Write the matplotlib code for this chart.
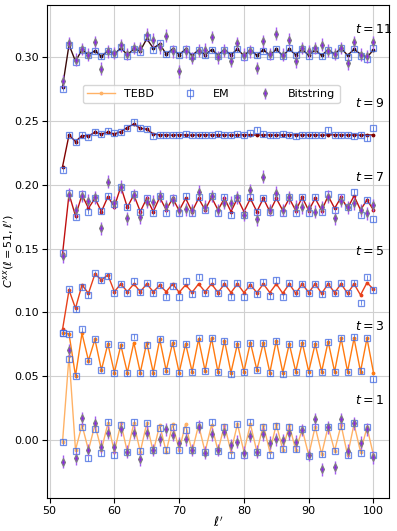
import numpy as np
import matplotlib
matplotlib.use('Agg')
import matplotlib.pyplot as plt

# site index l'
ell = np.arange(52, 101)

# TEBD curves, one per time step
tebd_t1 = [-0.0013, 0.0660, -0.0078, 0.0118, -0.0078, 0.0118, -0.0078, 0.0131, -0.0092, 0.0131,
           -0.0092, 0.0131, -0.0092, 0.0131, -0.0092, 0.0118, -0.0092, 0.0125, -0.0078, 0.0125,
           -0.0092, 0.0118, -0.0092, 0.0118, -0.0084, 0.0118, -0.0092, 0.0125, -0.0092, 0.0125,
           -0.0092, 0.0118, -0.0092, 0.0125, -0.0078, 0.0118, -0.0078, 0.0084, -0.0118, 0.0105,
           -0.0110, 0.0105, -0.0084, 0.0118, -0.0118, 0.0125, -0.0092, 0.0099, -0.0118]
tebd_t3 = [0.0842, 0.0832, 0.0503, 0.0837, 0.0623, 0.0790, 0.0550, 0.0754, 0.0529, 0.0743,
           0.0529, 0.0764, 0.0529, 0.0764, 0.0529, 0.0790, 0.0544, 0.0764, 0.0529, 0.0754,
           0.0537, 0.0790, 0.0544, 0.0798, 0.0531, 0.0780, 0.0529, 0.0754, 0.0537, 0.0764,
           0.0550, 0.0764, 0.0529, 0.0780, 0.0529, 0.0754, 0.0537, 0.0764, 0.0537, 0.0754,
           0.0537, 0.0772, 0.0537, 0.0798, 0.0537, 0.0798, 0.0537, 0.0798, 0.0529]
tebd_t5 = [0.0868, 0.1176, 0.1033, 0.1216, 0.1150, 0.1302, 0.1255, 0.1294, 0.1163, 0.1224,
           0.1163, 0.1224, 0.1163, 0.1224, 0.1163, 0.1213, 0.1163, 0.1224, 0.1158, 0.1216,
           0.1158, 0.1224, 0.1163, 0.1224, 0.1156, 0.1224, 0.1156, 0.1224, 0.1156, 0.1216,
           0.1156, 0.1224, 0.1156, 0.1224, 0.1150, 0.1224, 0.1150, 0.1224, 0.1156, 0.1224,
           0.1150, 0.1224, 0.1156, 0.1224, 0.1150, 0.1224, 0.1137, 0.1234, 0.1182]
tebd_t7 = [0.1460, 0.1929, 0.1757, 0.1922, 0.1817, 0.1895, 0.1791, 0.1908, 0.1830, 0.1987,
           0.1825, 0.1922, 0.1791, 0.1895, 0.1791, 0.1903, 0.1804, 0.1895, 0.1799, 0.1895,
           0.1791, 0.1895, 0.1804, 0.1903, 0.1804, 0.1895, 0.1791, 0.1895, 0.1791, 0.1893,
           0.1791, 0.1895, 0.1791, 0.1895, 0.1799, 0.1895, 0.1799, 0.1903, 0.1799, 0.1895,
           0.1799, 0.1914, 0.1817, 0.1903, 0.1817, 0.1914, 0.1804, 0.1882, 0.1804]
tebd_t9 = [0.2144, 0.2392, 0.2340, 0.2387, 0.2384, 0.2413, 0.2400, 0.2413, 0.2400, 0.2418,
           0.2450, 0.2478, 0.2444, 0.2437, 0.2400, 0.2392, 0.2392, 0.2390, 0.2393, 0.2392,
           0.2390, 0.2392, 0.2393, 0.2391, 0.2392, 0.2392, 0.2390, 0.2392, 0.2393, 0.2392,
           0.2391, 0.2392, 0.2392, 0.2390, 0.2392, 0.2393, 0.2392, 0.2391, 0.2392, 0.2392,
           0.2390, 0.2392, 0.2393, 0.2392, 0.2391, 0.2392, 0.2390, 0.2392, 0.2392]
tebd_t11 = [0.2770, 0.3099, 0.2969, 0.3060, 0.3021, 0.3052, 0.3008, 0.3052, 0.3026, 0.3073,
            0.3021, 0.3065, 0.3052, 0.3146, 0.3073, 0.3105, 0.3026, 0.3065, 0.3021, 0.3065,
            0.3016, 0.3058, 0.3021, 0.3060, 0.3021, 0.3060, 0.3021, 0.3065, 0.3013, 0.3060,
            0.3016, 0.3060, 0.3016, 0.3063, 0.3013, 0.3063, 0.3021, 0.3063, 0.3016, 0.3058,
            0.3016, 0.3060, 0.3026, 0.3073, 0.3016, 0.3063, 0.3026, 0.3000, 0.3060]

# EM estimates
em_t1 = [-0.0015, 0.0635, -0.0084, 0.0105, -0.0144, 0.0084, -0.0105, 0.0144, -0.0118, 0.0118,
         -0.0092, 0.0144, -0.0084, 0.0131, -0.0078, 0.0092, -0.0078, 0.0099, -0.0078, 0.0078,
         -0.0078, 0.0118, -0.0092, 0.0144, -0.0084, 0.0099, -0.0118, 0.0125, -0.0118, 0.0144,
         -0.0092, 0.0099, -0.0118, 0.0110, -0.0073, 0.0105, -0.0073, 0.0084, -0.0125, 0.0105,
         -0.0110, 0.0099, -0.0084, 0.0110, -0.0118, 0.0131, -0.0099, 0.0099, -0.0118]
em_t3 = [0.0842, 0.0832, 0.0503, 0.0869, 0.0623, 0.0790, 0.0550, 0.0754, 0.0529, 0.0743,
         0.0524, 0.0811, 0.0529, 0.0746, 0.0524, 0.0793, 0.0544, 0.0764, 0.0529, 0.0754,
         0.0537, 0.0798, 0.0544, 0.0798, 0.0531, 0.0780, 0.0518, 0.0754, 0.0531, 0.0764,
         0.0550, 0.0764, 0.0524, 0.0780, 0.0518, 0.0754, 0.0537, 0.0764, 0.0529, 0.0754,
         0.0537, 0.0772, 0.0537, 0.0798, 0.0537, 0.0811, 0.0544, 0.0798, 0.0476]
em_t5 = [0.0842, 0.1182, 0.1025, 0.1197, 0.1137, 0.1307, 0.1255, 0.1286, 0.1156, 0.1224,
         0.1156, 0.1250, 0.1158, 0.1229, 0.1150, 0.1213, 0.1124, 0.1208, 0.1119, 0.1250,
         0.1145, 0.1281, 0.1150, 0.1250, 0.1150, 0.1229, 0.1124, 0.1234, 0.1119, 0.1216,
         0.1145, 0.1242, 0.1129, 0.1255, 0.1124, 0.1229, 0.1150, 0.1224, 0.1156, 0.1224,
         0.1145, 0.1224, 0.1150, 0.1229, 0.1150, 0.1234, 0.1077, 0.1276, 0.1176]
em_t7 = [0.1464, 0.1940, 0.1752, 0.1930, 0.1791, 0.1895, 0.1799, 0.1914, 0.1851, 0.1987,
         0.1825, 0.1930, 0.1791, 0.1895, 0.1783, 0.1914, 0.1783, 0.1895, 0.1778, 0.1914,
         0.1778, 0.1903, 0.1804, 0.1914, 0.1783, 0.1908, 0.1765, 0.1895, 0.1765, 0.1908,
         0.1791, 0.1895, 0.1791, 0.1908, 0.1783, 0.1903, 0.1783, 0.1903, 0.1783, 0.1908,
         0.1791, 0.1930, 0.1804, 0.1903, 0.1825, 0.1948, 0.1765, 0.1882, 0.1730]
em_t9 = [0.2118, 0.2395, 0.2338, 0.2392, 0.2379, 0.2416, 0.2398, 0.2424, 0.2405, 0.2413,
         0.2448, 0.2497, 0.2450, 0.2440, 0.2385, 0.2392, 0.2390, 0.2395, 0.2388, 0.2400,
         0.2392, 0.2390, 0.2395, 0.2388, 0.2400, 0.2392, 0.2388, 0.2398, 0.2390, 0.2405,
         0.2432, 0.2400, 0.2390, 0.2392, 0.2400, 0.2388, 0.2380, 0.2392, 0.2388, 0.2395,
         0.2390, 0.2432, 0.2392, 0.2388, 0.2395, 0.2383, 0.2392, 0.2366, 0.2446]
em_t11 = [0.2754, 0.3099, 0.2960, 0.3060, 0.3021, 0.3052, 0.3008, 0.3052, 0.3030, 0.3080,
          0.3010, 0.3065, 0.3045, 0.3157, 0.3060, 0.3110, 0.3026, 0.3065, 0.3021, 0.3065,
          0.3010, 0.3058, 0.3016, 0.3060, 0.3013, 0.3060, 0.3021, 0.3065, 0.3003, 0.3060,
          0.3016, 0.3052, 0.3008, 0.3063, 0.3008, 0.3073, 0.3021, 0.3063, 0.3008, 0.3058,
          0.3008, 0.3060, 0.3016, 0.3073, 0.3000, 0.3063, 0.3008, 0.2990, 0.3073]
em_err = 0.002

# Bitstring sampling (only t = 1, 7, 11)
bit_t1 = [-0.0170, 0.0706, -0.0144, 0.0170, -0.0078, 0.0136, -0.0052, 0.0058, -0.0058, 0.0084,
          -0.0092, 0.0058, -0.0152, 0.0058, -0.0078, 0.0005, 0.0084, 0.0039, -0.0026, 0.0005,
          -0.0078, 0.0105, -0.0099, 0.0044, -0.0078, 0.0065, -0.0039, -0.0013, -0.0099, 0.0031,
          -0.0092, 0.0044, -0.0021, 0.0005, 0.0000, 0.0052, -0.0013, 0.0078, -0.0118, 0.0162,
          -0.0230, 0.0099, -0.0214, 0.0162, -0.0084, 0.0131, -0.0021, 0.0084, -0.0136]
bit_t7 = [0.1440, 0.1925, 0.1804, 0.1914, 0.1877, 0.1903, 0.1660, 0.2026, 0.1861, 0.1987,
          0.1739, 0.1922, 0.1746, 0.1869, 0.1869, 0.1914, 0.1835, 0.1882, 0.1804, 0.1809,
          0.1804, 0.1948, 0.1830, 0.1914, 0.1804, 0.1861, 0.1861, 0.1903, 0.1765, 0.1961,
          0.1731, 0.2065, 0.1804, 0.1940, 0.1804, 0.1903, 0.1830, 0.1825, 0.1817, 0.1791,
          0.1825, 0.1908, 0.1739, 0.1877, 0.1825, 0.1856, 0.1804, 0.1778, 0.1843]
bit_t11 = [0.2812, 0.3112, 0.2982, 0.3065, 0.3021, 0.3120, 0.2911, 0.3047, 0.3034, 0.3094,
           0.3026, 0.3073, 0.3073, 0.3178, 0.3139, 0.3078, 0.3170, 0.3047, 0.2890, 0.3047,
           0.2995, 0.3052, 0.3060, 0.3160, 0.3000, 0.3052, 0.2974, 0.3112, 0.3021, 0.3047,
           0.2916, 0.3125, 0.3026, 0.3185, 0.3021, 0.3139, 0.2969, 0.3073, 0.3047, 0.3073,
           0.3099, 0.3052, 0.3026, 0.3073, 0.2955, 0.3120, 0.3021, 0.3008, 0.3118]
bit_err = 0.005

times = [1, 3, 5, 7, 9, 11]
tebd = [tebd_t1, tebd_t3, tebd_t5, tebd_t7, tebd_t9, tebd_t11]
em = [em_t1, em_t3, em_t5, em_t7, em_t9, em_t11]
bits = {1: bit_t1, 7: bit_t7, 11: bit_t11}
colors = ['#ffb266', '#ff7a10', '#e8401a', '#c01010', '#800000', '#3a0a0a']
label_y = [0.031, 0.089, 0.1475, 0.2055, 0.2635, 0.3216]

fig = plt.figure(figsize=(3.97, 5.31), dpi=100)
ax = fig.add_axes([0.1184, 0.062, 0.8615, 0.9284])

for i, t in enumerate(times):
    ax.plot(ell, tebd[i], '.-', color=colors[i], lw=1, ms=3.5, zorder=2,
            label='TEBD' if i == 0 else None)
    ax.errorbar(ell, em[i], yerr=em_err, fmt='s', mfc='none', mec='royalblue',
                ecolor='royalblue', ms=4.5, mew=0.9, elinewidth=0.7, alpha=0.75, zorder=3,
                label='EM' if i == 0 else None)
    if t in bits:
        ax.errorbar(ell, bits[t], yerr=bit_err, fmt='d', mfc='#8a2be2', mec='#808080',
                    ecolor='#a45cf0', ms=4, mew=0.8, elinewidth=1, zorder=4,
                    label='Bitstring' if t == 1 else None)
    ax.text(97.2, label_y[i], '$t=%d$' % t, fontsize=9, ha='left', va='center')

ax.set_xlim(49.6, 102.4)
ax.set_ylim(-0.0455, 0.341)
ax.set_xticks([50, 60, 70, 80, 90, 100])
ax.set_yticks([0.0, 0.05, 0.10, 0.15, 0.20, 0.25, 0.30])
ax.set_yticklabels(['0.00', '0.05', '0.10', '0.15', '0.20', '0.25', '0.30'])
ax.tick_params(labelsize=8, pad=2)
ax.grid(True, color='#d0d0d0', lw=0.8)
ax.set_axisbelow(True)
ax.set_xlabel("$\\ell'$", fontsize=9, labelpad=0)
ax.set_ylabel("$C^{xx}(\\ell=51,\\ell')$", fontsize=8)
ax.yaxis.set_label_coords(-0.09, 0.5)

ax.legend(loc='upper center', bbox_to_anchor=(0.48, 0.85), ncol=3, fontsize=8,
          framealpha=0.8, handlelength=2.5, columnspacing=2.0)

fig.savefig('out.png', dpi=100)
